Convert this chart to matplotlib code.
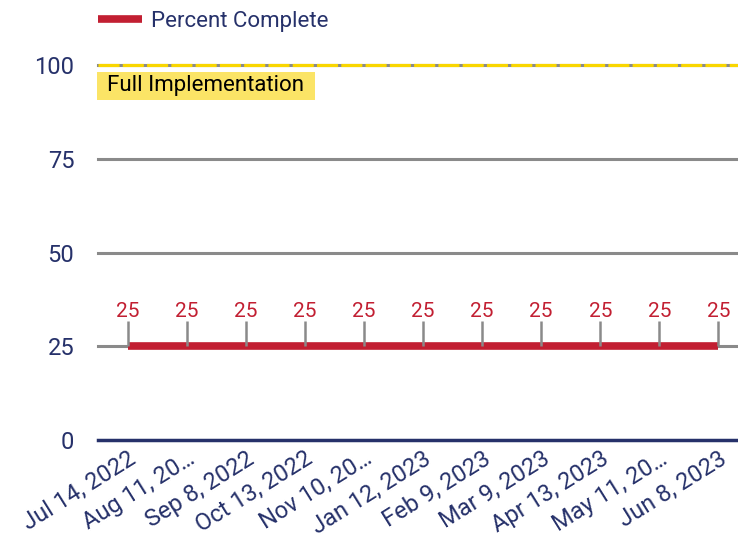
import matplotlib
matplotlib.use('Agg')
import matplotlib.pyplot as plt
from matplotlib.lines import Line2D
from matplotlib.patches import Rectangle

plt.rcParams['font.family'] = ['Roboto', 'DejaVu Sans']

# Data
dates = ['Jul 14, 2022', 'Aug 11, 20\u2026', 'Sep 8, 2022', 'Oct 13, 2022', 'Nov 10, 20\u2026',
         'Jan 12, 2023', 'Feb 9, 2023', 'Mar 9, 2023', 'Apr 13, 2023', 'May 11, 20\u2026',
         'Jun 8, 2023']
percent_complete = [25, 25, 25, 25, 25, 25, 25, 25, 25, 25, 25]
target = 100
y_ticks = [0, 25, 50, 75, 100]

navy = '#26316a'
red = '#c21f32'
grid_gray = '#8a8a8a'
yellow = '#f9d600'

fig = plt.figure(figsize=(7.38, 5.36), dpi=100)
ax = fig.add_axes([98 / 738, 1 - 440 / 536, 650 / 738, 375 / 536])

x = list(range(len(dates)))

# grid lines
for v in y_ticks[1:]:
    ax.axhline(v, color=grid_gray, lw=2.2, zorder=1, clip_on=False)
ax.axhline(0, color=navy, lw=2.5, zorder=2, clip_on=False)

# target line (yellow dashes over the gray grid line)
ax.axhline(target, color=yellow, lw=2.3, zorder=3, linestyle=(0, (6.6, 1.0)),
           clip_on=False)

# series
ax.plot(x, percent_complete, color=red, lw=5.5, solid_capstyle='butt', zorder=4)

# data labels with leader lines
px_per_unit = 375 / 100
for xi, yi in zip(x, percent_complete):
    ax.plot([xi, xi], [yi, yi + 25 / px_per_unit], color=grid_gray, lw=1.8, zorder=5,
            solid_capstyle='butt')
    ax.annotate(str(yi), xy=(xi, yi), xytext=(0, 18), textcoords='offset points',
                ha='center', va='bottom', color=red, fontsize=15, zorder=6)

# "Full Implementation" label box
txt = ax.text(0.014, 0.944, 'Full Implementation', transform=ax.transAxes, ha='left',
              va='center', fontsize=16, color='black', zorder=7)
fig.canvas.draw()
bb = txt.get_window_extent()
inv = ax.transAxes.inverted()
cy = (bb.y0 + bb.y1) / 2
(bx0, by0), (bx1, by1) = inv.transform([(bb.x0 - 10, cy - 14), (bb.x1 + 11, cy + 14)])
ax.add_patch(Rectangle((bx0, by0), bx1 - bx0, by1 - by0, transform=ax.transAxes,
                       facecolor='#fbe466', edgecolor='none', zorder=6, clip_on=False))

ax.set_xlim(-0.5, len(dates) - 0.5)
ax.set_ylim(0, 100)
ax.set_yticks(y_ticks)
ax.set_yticklabels([str(v) for v in y_ticks], color=navy, fontsize=17)
ax.set_xticks(x)
ax.set_xticklabels(dates, rotation=32, ha='right', va='top', rotation_mode='anchor',
                   color=navy, fontsize=17)
ax.tick_params(axis='y', length=0, pad=17)
ax.tick_params(axis='x', length=0, pad=5)
for s in ax.spines.values():
    s.set_visible(False)

handle = Line2D([], [], color=red, lw=5.5, solid_capstyle='butt')
leg = fig.legend([handle], ['Percent Complete'], loc='upper left',
                 bbox_to_anchor=(98 / 738, 1 - 11 / 536), frameon=False, fontsize=16,
                 handlelength=2.0, handletextpad=0.4, borderpad=0, borderaxespad=0)
for t in leg.get_texts():
    t.set_color(navy)

fig.savefig('out.png', dpi=100)
